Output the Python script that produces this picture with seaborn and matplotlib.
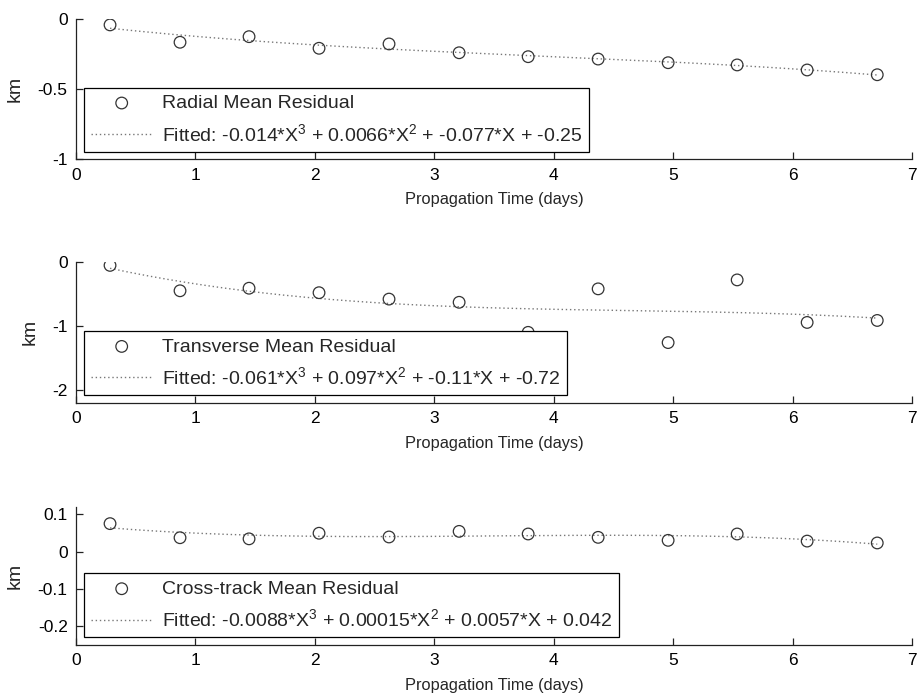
import numpy as np
import pandas as pd
import matplotlib
matplotlib.use("Agg")
import matplotlib.pyplot as plt
import seaborn as sns

# ---- data ----
prop_time = [0.285, 0.871, 1.449, 2.035, 2.621, 3.208, 3.786, 4.372, 4.958, 5.536, 6.122, 6.709]
radial = [-0.040, -0.164, -0.124, -0.207, -0.176, -0.239, -0.267, -0.284, -0.310, -0.326, -0.362, -0.396]
transverse = [-0.053, -0.45, -0.41, -0.48, -0.58, -0.63, -1.10, -0.42, -1.26, -0.28, -0.945, -0.914]
crosstrack = [0.0747, 0.037, 0.034, 0.049, 0.039, 0.054, 0.047, 0.038, 0.030, 0.047, 0.028, 0.023]

series_names = ["Radial Mean Residual", "Transverse Mean Residual", "Cross-track Mean Residual"]
fit_labels = [
    "Fitted: -0.014*X$^3$ + 0.0066*X$^2$ + -0.077*X + -0.25",
    "Fitted: -0.061*X$^3$ + 0.097*X$^2$ + -0.11*X + -0.72",
    "Fitted: -0.0088*X$^3$ + 0.00015*X$^2$ + 0.0057*X + 0.042",
]
ylims = [(-1, 0), (-2.2, 0), (-0.25, 0.12)]
yticks = [[-1, -0.5, 0], [-2, -1, 0], [-0.2, -0.1, 0, 0.1]]
yticklabels = [["-1", "-0.5", "0"], ["-2", "-1", "0"], ["-0.2", "-0.1", "0", "0.1"]]
xticks = [0, 1, 2, 3, 4, 5, 6, 7]
# -------------------------------------

sns.set_theme(style="white")
plt.rcParams['font.family'] = ['Liberation Sans', 'DejaVu Sans']
plt.rcParams['mathtext.fontset'] = 'custom'
plt.rcParams['mathtext.rm'] = 'Liberation Sans'
plt.rcParams['mathtext.it'] = 'Liberation Sans'

fig = plt.figure(figsize=(9.19, 7.0), dpi=100)
W, H = 919, 700
axes_px = [(19.3, 159.3), (262.0, 402.7), (506.7, 645.0)]
x0, x1 = 76, 912

all_vals = [radial, transverse, crosstrack]
for i, vals in enumerate(all_vals):
    top, bot = axes_px[i]
    ax = fig.add_axes([x0 / W, 1 - bot / H, (x1 - x0) / W, (bot - top) / H])
    df = pd.DataFrame({"t": prop_time, "v": vals})
    coeffs = np.polyfit(df["t"], df["v"], 3)
    tt = np.linspace(df["t"].min(), df["t"].max(), 200)
    fit_df = pd.DataFrame({"t": tt, "v": np.polyval(coeffs, tt)})

    sns.scatterplot(data=df, x="t", y="v", ax=ax, marker="o", s=70,
                    facecolors="none", edgecolor="#333333", linewidth=0.9,
                    label=series_names[i], zorder=3)
    sns.lineplot(data=fit_df, x="t", y="v", ax=ax, color="#777777",
                 linestyle=(0, (1, 2)), linewidth=1.0, label=fit_labels[i], zorder=2)

    ax.set_xlim(0, 7)
    ax.set_ylim(*ylims[i])
    ax.set_xticks(xticks)
    ax.set_xticklabels([str(v) for v in xticks])
    ax.set_yticks(yticks[i])
    ax.set_yticklabels(yticklabels[i])
    for s in ["top", "right"]:
        ax.spines[s].set_visible(False)
    for s in ["left", "bottom"]:
        ax.spines[s].set_color("#222222")
        ax.spines[s].set_linewidth(0.9)
    ax.tick_params(direction="in", length=5, width=0.9, colors="#222222",
                   labelcolor="black", labelsize=12.5, left=True, bottom=True, pad=6)
    ax.set_xlabel("Propagation Time (days)", fontsize=11.8, labelpad=7)
    ax.set_ylabel("km", fontsize=14, labelpad=10)
    ax.set_facecolor("white")
    leg = ax.legend(loc="lower left", fontsize=14, frameon=True, fancybox=False,
                    edgecolor="black", framealpha=1, borderaxespad=0.4,
                    handlelength=3.2, handletextpad=0.45, labelspacing=0.55,
                    borderpad=0.35)
    leg.get_frame().set_linewidth(0.9)

fig.savefig("out.png", dpi=100, facecolor="white")
